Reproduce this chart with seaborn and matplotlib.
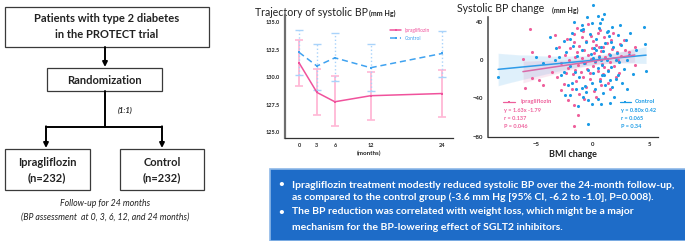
import numpy as np
import pandas as pd
import matplotlib.pyplot as plt
import seaborn as sns
from matplotlib.patches import Rectangle

# systolic BP trajectory (mm Hg), mean with error bar limits
months = [0, 3, 6, 12, 24]
ipra_mean = [131.3, 128.6, 127.75, 128.3, 128.5]
ipra_lo = [129.2, 126.5, 125.5, 126.1, 126.4]
ipra_hi = [133.4, 130.7, 130.1, 130.5, 130.6]
ctrl_mean = [132.25, 131.0, 131.75, 130.85, 132.15]
ctrl_lo = [130.2, 128.8, 129.6, 128.75, 130.0]
ctrl_hi = [134.3, 133.05, 134.0, 133.05, 134.2]

# BMI change vs systolic BP change
ipra_bmi = [-5.6, -3.4, -1.7, 2.7, 3.7, -6.2, -5.4, -4.8, -4.4, -6.0, 3.7, -2.8, -2.2, -1.7, -1.3, -1.7, -5.4,
            -2.5, -2.2, -2.0, -1.8, -1.6, -1.5, -1.4, -1.3, -1.2, -1.1, -1.0, -0.9, -0.8, -0.7, -0.6, -0.5,
            -0.4, -0.3, -0.2, -0.1, 0.0, 0.1, 0.2, 0.3, 0.4, 0.5, 0.6, 0.7, 0.8, 0.9, 1.0, 1.1, 1.2, 1.3,
            1.4, 1.5, 1.7, 1.9, 2.1, 2.3, 2.5, 2.8, -2.8, -3.0, -2.6, -2.3, -1.9, -1.7, -1.2, -0.9, -0.6,
            -0.2, 0.1, 0.4, 0.7, 1.0, 1.3, 1.6, 2.0, 2.4, -3.6, -3.2, -2.4, -1.4, -0.4, 0.6, 1.8, -0.8,
            0.3, 1.5, -2.1, -1.0, 0.0, 0.9, 2.2, -3.9, 3.2, -1.6, 0.5, -0.3]
ipra_sbp = [32.2, 26.0, 19.0, 20.8, 13.9, 0.7, 8.7, -20.8, -26.0, -29.4, -5.2, -31.2, -41.6, -46.8, -57.1, -68.2, -19.0,
            5, -8, 12, -15, 3, -22, 8, -5, 15, -12, 2, -18, 10, -3, 20, -9,
            5, -14, 1, 12, -6, 7, -2, 16, -11, 4, -20, 9, -4, 13, -7, 3, 18, -10,
            6, -2, 11, -6, 8, -13, 4, 10, -3, 14, -25, 22, -30, 27, -35, 30, -28,
            25, -32, 28, -26, 24, -24, 21, -18, 17, -12, -18, -14, 33, 37, 31, 28, -40,
            -38, -30, 0, 24, 20, -15, 0, 4, 8, -10, 14, -20]

ctrl_bmi = [0.0, 0.4, 0.8, -0.1, -1.0, -0.9, -3.8, 1.7, 1.2, 4.5, 4.6, -8.4, -5.0, -4.4, -3.4, -2.6, 3.0, 4.7,
            1.5, 0.8, -1.9, -2.0, -0.4, -0.1, 0.7, -0.4, -1.0, -0.6, 2.2,
            -2.4, -2.0, -1.8, -1.6, -1.4, -1.2, -1.0, -0.8, -0.6, -0.4, -0.2, 0.0, 0.1, 0.2, 0.3, 0.4,
            0.5, 0.6, 0.7, 0.8, 0.9, 1.0, 1.1, 1.2, 1.3, 1.4, 1.5, 1.6, 1.8, 2.0, 2.1, 2.3, 2.5, 2.7,
            3.2, 3.5, 3.8, -2.8, -2.6, -2.2, -1.9, -1.5, -1.1, -0.7, -0.3, 0.2, 0.5, 0.9, 1.3, 1.7,
            2.2, 2.6, 2.9, -3.0, -3.3, -2.5, -0.9, 0.4, 1.9, -1.7, 0.6, 2.4, 3.0, -0.5, 1.0, 0.0,
            0.7, 1.5, -1.3, 3.3, -0.1, 1.1, 2.0, -2.0, 0.3, 1.6]
ctrl_sbp = [57.1, 45.7, 42.3, 38.8, 36.4, 31.9, 23.5, 34.6, 29.4, 34.6, 16.6, -17.3, 2.8, -3.5, 0.0, -12.0, 0.0, -11.0,
            -20.8, -15.6, -24.2, -36.4, -41.6, -45.7, -46.1, -66.8, -29.4, -32.9, -15.6,
            8, -6, 15, -12, 4, -18, 10, -3, 19, -10, 6, -14, 12, -1, 22, -8,
            3, -22, 14, -5, 9, -16, 18, 0, -11, 25, 5, -7, 13, -20, 7, -2, 16, -9,
            5, -15, 10, -16, 20, -26, 28, -30, 31, -27, 27, -30, 33, -34, 30, -28,
            26, -24, 21, 3, 12, -36, -38, -40, -38, 40, 38, 36, -30, 45, 48, 2,
            0, -45, -48, 28, -24, -26, 0, 22, 10, 19]

ipra_stats = ['y = 1.63x -1.79', 'r = 0.137', 'P = 0.046']
ctrl_stats = ['y = 0.80x 0.42', 'r = 0.065', 'P = 0.34']

summary = [
    ('Ipragliflozin treatment modestly reduced systolic BP over the 24-month follow-up,',
     'as compared to the control group (-3.6 mm Hg [95% CI, -6.2 to -1.0], P=0.008).'),
    ('The BP reduction was correlated with weight loss, which might be a major',
     'mechanism for the BP-lowering effect of SGLT2 inhibitors.'),
]

PINK = '#F0529C'
PINK_LIGHT = '#FFB8D6'
BLUE = '#3FA2F0'
BLUE_LIGHT = '#A9D3FA'
SC_PINK = '#EE5F9B'
SC_BLUE = '#1B9BE6'
TXT = '#222222'

sns.set_style('white')
plt.rcParams['font.family'] = ['Lato', 'DejaVu Sans']

fig = plt.figure(figsize=(6.85, 2.41), dpi=100)

# background canvas in pixel units for the flowchart and summary box
bg = fig.add_axes([0, 0, 1, 1])
bg.set_xlim(0, 685)
bg.set_ylim(241, 0)
bg.axis('off')

box_kw = dict(fill=False, edgecolor='#3a3a3a', lw=0.9)
for x0, y0, w, h in [(5, 7, 204, 40), (47, 68, 115, 23), (5, 149, 85, 41), (120, 149, 84, 41)]:
    bg.add_patch(Rectangle((x0, y0), w, h, **box_kw))

bold = dict(fontweight='bold', color=TXT, ha='center', va='center')
bg.text(107, 19, 'Patients with type 2 diabetes', fontsize=8, **bold)
bg.text(107, 35, 'in the PROTECT trial', fontsize=8, **bold)
bg.text(104, 80, 'Randomization', fontsize=8, **bold)
bg.text(47, 162, 'Ipragliflozin', fontsize=8, **bold)
bg.text(47, 178, '(n=232)', fontsize=8, **bold)
bg.text(162, 162, 'Control', fontsize=8, **bold)
bg.text(162, 178, '(n=232)', fontsize=8, **bold)
bg.text(125, 110, '(1:1)', fontsize=5.5, style='italic', **bold)
bg.text(105, 203, 'Follow-up for 24 months', fontsize=6.3, style='italic', color=TXT, ha='center', va='center')
bg.text(105, 217, '(BP assessment  at 0, 3, 6, 12, and 24 months)', fontsize=6.3, style='italic',
        color=TXT, ha='center', va='center')

arrow = dict(arrowstyle='-|>', color='black', lw=1.4, mutation_scale=7, shrinkA=0, shrinkB=0)
bg.annotate('', xy=(105, 67), xytext=(105, 47), arrowprops=arrow)
bg.plot([105, 105], [91, 127], color='black', lw=1.4)
bg.plot([46, 162], [127, 127], color='black', lw=1.4)
bg.annotate('', xy=(46, 148), xytext=(46, 126.3), arrowprops=arrow)
bg.annotate('', xy=(162, 148), xytext=(162, 126.3), arrowprops=arrow)

# titles
bg.text(255, 12, 'Trajectory of systolic BP', fontsize=7.6, color=TXT, ha='left', va='center')
bg.text(369, 13, '(mm Hg)', fontsize=5, fontweight='bold', color=TXT, ha='left', va='center')
bg.text(457, 9, 'Systolic BP change', fontsize=7.6, color=TXT, ha='left', va='center')
bg.text(552, 10, '(mm Hg)', fontsize=5, fontweight='bold', color=TXT, ha='left', va='center')

# summary box
bg.add_patch(Rectangle((270, 169), 416, 72, facecolor='#1E6CC8', edgecolor='#8DB8E8', lw=1.2))
ys = [185, 197, 212, 228]
i = 0
for first, second in summary:
    bg.text(281, ys[i], '•', fontsize=7, color='white', ha='center', va='center', fontweight='bold')
    bg.text(292, ys[i], first, fontsize=7.5, color='white', ha='left', va='center', fontweight='bold')
    bg.text(292, ys[i + 1], second, fontsize=7.5, color='white', ha='left', va='center', fontweight='bold')
    i += 2

# trajectory chart
ax1 = fig.add_axes([285 / 685, 1 - 138 / 241, 168 / 685, 123 / 241])
traj = pd.DataFrame({
    'month': months + months,
    'sbp': ipra_mean + ctrl_mean,
    'group': ['Ipragliflozin'] * 5 + ['Control'] * 5,
})
sns.lineplot(data=traj, x='month', y='sbp', hue='group', style='group',
             palette={'Ipragliflozin': PINK, 'Control': BLUE},
             dashes={'Ipragliflozin': '', 'Control': (4, 2.5)},
             markers={'Ipragliflozin': 's', 'Control': 's'},
             markersize=2, markeredgewidth=0, lw=1.1, errorbar=None, ax=ax1, zorder=3)
im, cm = np.array(ipra_mean), np.array(ctrl_mean)
ax1.errorbar(months, ipra_mean, yerr=[im - np.array(ipra_lo), np.array(ipra_hi) - im],
             fmt='none', ecolor=PINK_LIGHT, elinewidth=1.3, capsize=3, capthick=1.2, zorder=2)
eb = ax1.errorbar(months, ctrl_mean, yerr=[cm - np.array(ctrl_lo), np.array(ctrl_hi) - cm],
                  fmt='none', ecolor=BLUE_LIGHT, elinewidth=1, capsize=3, capthick=1, zorder=2)
eb[2][0].set_linestyle(':')
ax1.set_xlim(-2.35, 25.8)
ax1.set_ylim(124.45, 135.65)
ax1.set_xticks(months)
ax1.set_yticks([125.0, 127.5, 130.0, 132.5, 135.0])
ax1.set_yticklabels(['125.0', '127.5', '130.0', '132.5', '135.0'])
ax1.set_xlabel('(months)', fontsize=4.5, fontweight='bold', color=TXT, labelpad=2)
ax1.set_ylabel('')
ax1.tick_params(length=2, width=0.8, labelsize=4, pad=1.5, colors=TXT)
for lab in ax1.get_xticklabels() + ax1.get_yticklabels():
    lab.set_fontweight('bold')
sns.despine(ax=ax1)
ax1.spines['left'].set_color('#6e6e6e')
ax1.spines['left'].set_linewidth(1.6)
ax1.spines['bottom'].set_color('#333333')
ax1.spines['bottom'].set_linewidth(0.9)
ax1.set_facecolor('none')
handles, labels = ax1.get_legend_handles_labels()
ax1.legend(handles, labels, loc='upper left', bbox_to_anchor=(0.6, 0.93), fontsize=3.5, frameon=False,
           handlelength=2.2, labelspacing=0.6, labelcolor=[PINK, BLUE])

# scatter chart
ax2 = fig.add_axes([488 / 685, 1 - 137 / 241, 170 / 685, 134.75 / 241])
sns.scatterplot(x=ipra_bmi, y=ipra_sbp, color=SC_PINK, s=5, linewidth=0, ax=ax2, zorder=3)
sns.scatterplot(x=ctrl_bmi, y=ctrl_sbp, color=SC_BLUE, s=5, linewidth=0, ax=ax2, zorder=3)
sns.regplot(x=ctrl_bmi, y=ctrl_sbp, scatter=False, color='#2E9BE8', ci=95, seed=0, truncate=True,
            line_kws=dict(lw=1.1, zorder=4), ax=ax2)
sns.regplot(x=ipra_bmi, y=ipra_sbp, scatter=False, color='#D86AA8', ci=95, seed=0, truncate=True,
            line_kws=dict(lw=1.1, zorder=4), ax=ax2)
ax2.set_xlim(-9.29, 5.75)
ax2.set_ylim(-80, 60)
ax2.set_xticks([-5, 0, 5])
ax2.set_yticks([40, 0, -40, -80])
ax2.set_xlabel('BMI change', fontsize=6.5, fontweight='bold', color=TXT, labelpad=2)
ax2.tick_params(length=2, width=0.8, labelsize=4.3, pad=1.5, colors=TXT)
for lab in ax2.get_xticklabels() + ax2.get_yticklabels():
    lab.set_fontweight('bold')
sns.despine(ax=ax2)
ax2.spines['left'].set_bounds(-80, 45)
ax2.spines['left'].set_color('#555555')
ax2.spines['left'].set_linewidth(1.2)
ax2.spines['bottom'].set_color('#333333')
ax2.spines['bottom'].set_linewidth(0.9)
ax2.set_facecolor('none')

tr = ax2.transAxes
for x0, x1, tx, col, name, stats in [(0.088, 0.16, 0.19, SC_PINK, 'Ipragliflozin', ipra_stats),
                                       (0.776, 0.84, 0.865, SC_BLUE, 'Control', ctrl_stats)]:
    ax2.plot([x0, x1], [0.26, 0.26], color=col, lw=0.9, transform=tr, clip_on=False)
    ax2.plot([(x0 + x1) / 2], [0.26], 's', color=col, ms=1.8, mew=0, transform=tr, clip_on=False)
    ax2.text(tx, 0.26, name, fontsize=4.3, color=col, fontweight='bold', ha='left', va='center', transform=tr)
    for k, s in enumerate(stats):
        ax2.text(x0 + 0.005, 0.2 - 0.062 * k, s, fontsize=4, color=col, fontweight='bold',
                 ha='left', va='center', transform=tr)

fig.savefig('out.png', dpi=100)
